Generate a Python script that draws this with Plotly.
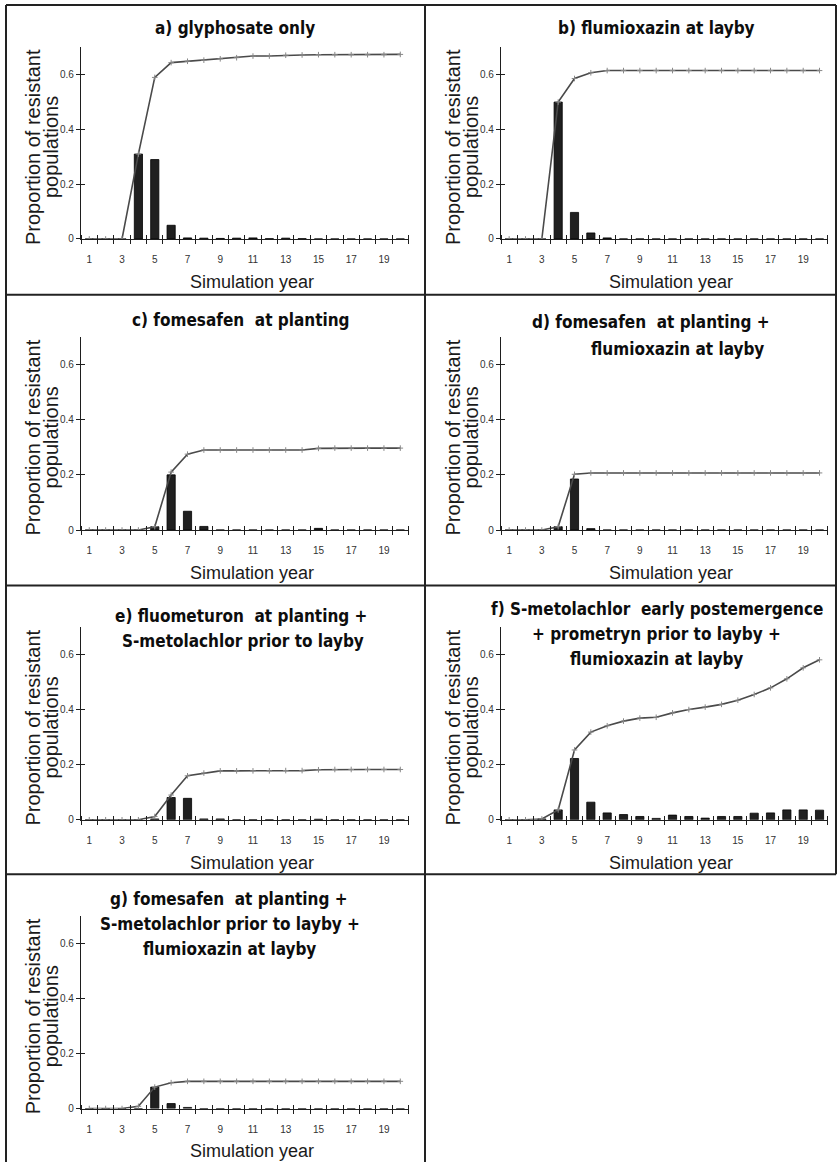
import plotly.graph_objects as go

# ---------------- data ----------------
years = list(range(1, 21))
xtick_years = [1, 3, 5, 7, 9, 11, 13, 15, 17, 19]
ytick_vals = [0, 0.2, 0.4, 0.6]
ytick_text = ["0", "0.2", "0.4", "0.6"]

bars_a = [0, 0, 0, 0.31, 0.29, 0.05, 0.004, 0.003, 0.002, 0.003, 0.004, 0.001, 0.003, 0.001, 0, 0, 0, 0, 0, 0]
line_a = [0, 0, 0, 0.31, 0.59, 0.644, 0.649, 0.653, 0.658, 0.662, 0.668, 0.668, 0.671, 0.672, 0.673, 0.673, 0.673, 0.673, 0.673, 0.674]

bars_b = [0, 0, 0, 0.50, 0.097, 0.022, 0.004, 0, 0, 0, 0, 0, 0, 0, 0, 0, 0, 0, 0, 0]
line_b = [0, 0, 0, 0.50, 0.586, 0.607, 0.615, 0.615, 0.615, 0.615, 0.615, 0.615, 0.615, 0.615, 0.615, 0.615, 0.615, 0.615, 0.615, 0.615]

bars_c = [0, 0, 0, 0, 0.012, 0.20, 0.068, 0.013, 0, 0, 0, 0, 0, 0, 0.006, 0, 0, 0, 0, 0]
line_c = [0, 0, 0, 0, 0.012, 0.21, 0.275, 0.29, 0.29, 0.29, 0.29, 0.29, 0.29, 0.29, 0.296, 0.297, 0.297, 0.297, 0.297, 0.297]

bars_d = [0, 0, 0, 0.012, 0.185, 0.005, 0, 0, 0, 0, 0, 0, 0, 0, 0, 0, 0, 0, 0, 0]
line_d = [0, 0, 0, 0.012, 0.202, 0.207, 0.207, 0.207, 0.207, 0.207, 0.207, 0.207, 0.207, 0.207, 0.207, 0.207, 0.207, 0.207, 0.207, 0.207]

bars_e = [0, 0, 0, 0, 0.003, 0.081, 0.078, 0.003, 0.003, 0, 0, 0, 0, 0, 0.002, 0, 0, 0, 0, 0]
line_e = [0, 0, 0, 0, 0.012, 0.09, 0.16, 0.17, 0.178, 0.178, 0.178, 0.178, 0.179, 0.179, 0.182, 0.183, 0.183, 0.183, 0.183, 0.183]

bars_f = [0, 0, 0.003, 0.036, 0.223, 0.064, 0.025, 0.019, 0.012, 0.005, 0.017, 0.012, 0.006, 0.012, 0.012, 0.024, 0.025, 0.036, 0.036, 0.035]
line_f = [0, 0, 0.003, 0.036, 0.254, 0.319, 0.342, 0.359, 0.37, 0.373, 0.389, 0.401, 0.41, 0.42, 0.435, 0.456, 0.48, 0.513, 0.553, 0.582]

bars_g = [0, 0, 0, 0, 0.078, 0.018, 0.004, 0, 0, 0, 0, 0, 0, 0, 0, 0, 0, 0, 0, 0]
line_g = [0, 0, 0, 0.008, 0.078, 0.094, 0.099, 0.099, 0.099, 0.099, 0.099, 0.099, 0.099, 0.099, 0.099, 0.099, 0.099, 0.099, 0.099, 0.099]

title_a = ["a) glyphosate only"]
title_b = ["b) flumioxazin at layby"]
title_c = ["c) fomesafen\u00a0 at planting"]
title_d = ["d) fomesafen\u00a0 at planting +", "flumioxazin at layby"]
title_e = ["e) fluometuron\u00a0 at planting +", "S-metolachlor prior to layby"]
title_f = ["f) S-metolachlor\u00a0 early postemergence", "+ prometryn prior to layby +", "flumioxazin at layby"]
title_g = ["g) fomesafen\u00a0 at planting +", "S-metolachlor prior to layby +", "flumioxazin at layby"]

y_title_lines = ["Proportion of resistant", "populations"]
x_title = "Simulation year"

panels = [
    (bars_a, line_a, title_a),
    (bars_b, line_b, title_b),
    (bars_c, line_c, title_c),
    (bars_d, line_d, title_d),
    (bars_e, line_e, title_e),
    (bars_f, line_f, title_f),
    (bars_g, line_g, title_g),
]

# ---------------- layout geometry (pixels) ----------------
W, H = 838, 1167
cols = [(81.1, 408.5), (501.0, 827.7)]
rows = [(47.5, 240.0), (338.4, 532.3), (630.1, 823.3), (920.1, 1113.3)]
grid = [(0, 0), (0, 1), (1, 0), (1, 1), (2, 0), (2, 1), (3, 0)]
title_pos = [
    [(235, 28.3)],
    [(656.7, 28)],
    [(240.8, 321)],
    [(651.3, 323.3), (677.5, 351)],
    [(240.5, 618.3), (243.3, 644)],
    [(656.7, 611.7), (656.7, 636.7), (656.7, 661.7)],
    [(229.2, 903.3), (230, 928.3), (229.2, 953.3)],
]

def fx(p):
    return p / W

def fy(p):
    return 1 - p / H

AXC = "#1e1e1e"
TXT = "#1a1a1a"
TITLE_FONT = dict(family="DejaVu Sans Condensed, Liberation Sans Narrow, Arial Narrow, sans-serif",
                  size=17, color="#0d0d0d")
AX_FONT = dict(family="Liberation Sans, Arial, sans-serif", size=20, color=TXT)
TICK_FONT = dict(family="Liberation Sans, Arial, sans-serif", size=10, color="#333333")

fig = go.Figure()
annotations = []
layout_axes = {}
boundaries = [y + 0.5 for y in range(0, 21)]

n = len(panels)
for i, (bars, line, tlines) in enumerate(panels):
    k = i + 1
    ko = k + n
    r, c = grid[i]
    x0, x1 = cols[c]
    ytop, ybot = rows[r]
    xs = "" if k == 1 else str(k)

    fig.add_trace(go.Bar(x=years, y=bars, width=0.5,
                         marker=dict(color="#202020", line=dict(color="#000000", width=0.8)),
                         xaxis="x" + xs, yaxis="y" + xs, showlegend=False))
    fig.add_trace(go.Scatter(x=years, y=line, mode="lines+markers",
                             line=dict(color="#4a4a4a", width=1.6),
                             marker=dict(symbol="cross-thin", size=4, line=dict(color="#888888", width=1)),
                             xaxis="x" + xs, yaxis="y" + xs, showlegend=False))
    # overlay axes giving inside ticks (crossing tick marks)
    fig.add_trace(go.Scatter(x=[], y=[], xaxis="x" + str(ko), yaxis="y" + str(ko), showlegend=False))

    layout_axes["xaxis" + xs] = dict(
        domain=[fx(x0), fx(x1)], range=[0.5, 20.5], anchor="y" + xs,
        showline=True, linecolor=AXC, linewidth=1.4, showgrid=False, zeroline=False,
        tickmode="array", tickvals=xtick_years, ticktext=[str(v) for v in xtick_years],
        ticks="", tickfont=TICK_FONT, ticklabelstandoff=11,
        minor=dict(tickmode="array", tickvals=boundaries, ticks="outside", ticklen=4,
                   tickwidth=1.2, tickcolor=AXC, showgrid=False),
        fixedrange=True,
    )
    layout_axes["yaxis" + xs] = dict(
        domain=[fy(ybot), fy(ytop)], range=[0, 0.7], anchor="x" + xs,
        showline=True, linecolor=AXC, linewidth=1.4, showgrid=False, zeroline=False,
        tickmode="array", tickvals=ytick_vals, ticktext=ytick_text,
        ticks="outside", ticklen=4, tickwidth=1.2, tickcolor=AXC, tickfont=TICK_FONT,
        fixedrange=True,
    )
    layout_axes["xaxis" + str(ko)] = dict(
        overlaying="x" + xs, range=[0.5, 20.5], anchor="y" + str(ko),
        showline=False, showgrid=False, zeroline=False, showticklabels=False,
        tickmode="array", tickvals=[], ticks="",
        minor=dict(tickmode="array", tickvals=boundaries, ticks="inside", ticklen=4,
                   tickwidth=1.2, tickcolor=AXC, showgrid=False),
        fixedrange=True,
    )
    layout_axes["yaxis" + str(ko)] = dict(
        overlaying="y" + xs, range=[0, 0.7], anchor="x" + str(ko),
        showline=False, showgrid=False, zeroline=False, showticklabels=False,
        tickmode="array", tickvals=ytick_vals[1:], ticks="inside", ticklen=4,
        tickwidth=1.2, tickcolor=AXC, fixedrange=True,
    )

    # titles
    for txt, (cx, cy) in zip(tlines, title_pos[i]):
        annotations.append(dict(text="<b>" + txt + "</b>", x=fx(cx), y=fy(cy), xref="paper", yref="paper",
                                xanchor="center", yanchor="middle", showarrow=False, font=TITLE_FONT))
    # y title (two lines)
    ymid = (ytop + ybot) / 2 + 4
    xoff = 0 if c == 0 else 420
    for txt, lx in zip(y_title_lines, [33 + xoff, 51 + xoff]):
        annotations.append(dict(text=txt, x=fx(lx), y=fy(ymid), xref="paper", yref="paper",
                                xanchor="center", yanchor="middle", textangle=-90, showarrow=False,
                                font=AX_FONT))
    # x title
    annotations.append(dict(text=x_title, x=fx((x0 + x1) / 2 + 7), y=fy(ybot + 43), xref="paper", yref="paper",
                            xanchor="center", yanchor="middle", showarrow=False,
                            font=dict(family="Liberation Sans, Arial, sans-serif", size=18, color=TXT)))

# panel frames
BC = "#222222"
frame = [
    (6, 5, 836, 5), (6, 5, 6, 1167), (425, 5, 425, 1167),
    (6, 296, 836, 296), (6, 588, 836, 588), (6, 878, 836, 878),
    (836, 5, 836, 878),
]
shapes = [dict(type="line", xref="paper", yref="paper", x0=fx(a), y0=fy(b), x1=fx(c2), y1=fy(d),
               line=dict(color=BC, width=2)) for (a, b, c2, d) in frame]

fig.update_layout(
    width=W, height=H, margin=dict(l=0, r=0, t=0, b=0),
    paper_bgcolor="white", plot_bgcolor="white",
    annotations=annotations, shapes=shapes, bargap=0.5,
    **layout_axes,
)

fig.write_html("out.html", config={"displayModeBar": False},
               post_script="document.body.style.margin='0';")
